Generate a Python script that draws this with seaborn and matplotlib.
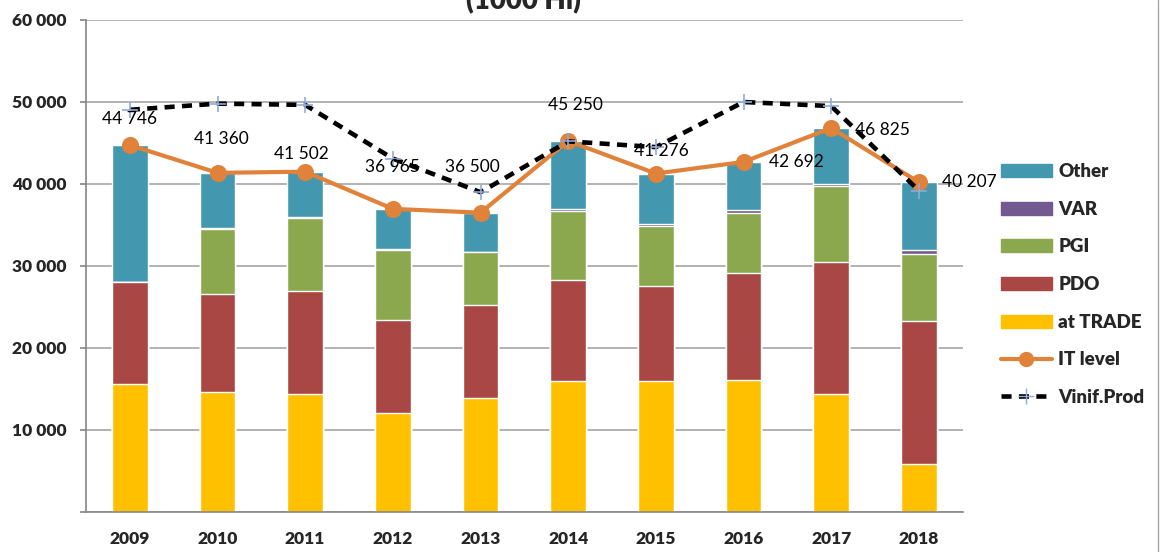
import matplotlib
matplotlib.use("Agg")
import matplotlib.pyplot as plt
from matplotlib.patches import Patch
from matplotlib.lines import Line2D
from matplotlib.ticker import FuncFormatter, FixedLocator
import numpy as np
import pandas as pd
import seaborn as sns

# data (1000 hl)
years = ["2009", "2010", "2011", "2012", "2013", "2014", "2015", "2016", "2017", "2018"]
at_trade = [15600, 14600, 14400, 12100, 13900, 16000, 16000, 16100, 14350, 5800]
pdo = [12400, 12000, 12600, 11350, 11400, 12300, 11600, 13100, 16150, 17500]
pgi = [0, 7950, 8900, 8500, 6360, 8370, 7300, 7300, 9200, 8200]
var = [0, 100, 50, 150, 100, 250, 200, 300, 350, 450]
it_level = [44746, 41360, 41502, 36965, 36500, 45250, 41276, 42692, 46825, 40207]
vinif_prod = [49050, 49800, 49650, 43100, 39000, 45200, 44500, 50000, 49500, 39200]

# "Other" fills each bar up to the IT level total
other = [t - a - b - c - d for t, a, b, c, d in zip(it_level, at_trade, pdo, pgi, var)]

series = ["at TRADE", "PDO", "PGI", "VAR", "Other"]
colors = {"at TRADE": "#FFC000", "PDO": "#A94745", "PGI": "#8BA84E",
          "VAR": "#72598F", "Other": "#4398B0"}
it_color = "#E0823A"
grid_grey = "#A6A6A6"
heavy = "heavy"

df = pd.DataFrame({"year": years, "at TRADE": at_trade, "PDO": pdo, "PGI": pgi,
                   "VAR": var, "Other": other})
cum = df[series].cumsum(axis=1)

sns.set_style("white")
plt.rcParams["font.family"] = ["Lato", "DejaVu Sans"]

fig = plt.figure(figsize=(11.6, 5.52), dpi=100)
ax = fig.add_axes([86 / 1160, 1 - 512 / 552, (962.7 - 86) / 1160, (512 - 20) / 552])

# stacked bars: draw the cumulative totals from the top segment down
for s in reversed(series):
    sns.barplot(x=df["year"], y=cum[s], color=colors[s], width=0.41,
                saturation=1, ax=ax, zorder=2)

sns.pointplot(x=years, y=it_level, color=it_color, marker="o", linestyle="-",
              markersize=10, linewidth=3, ax=ax, zorder=4, errorbar=None)
sns.pointplot(x=years, y=vinif_prod, color="black", marker="+", linestyle=(0, (2.2, 1.6)),
              markersize=11, markeredgecolor="#8FAADC", markeredgewidth=1.2,
              linewidth=3.3, ax=ax, zorder=5, errorbar=None)

# value labels for IT level (offsets in pixels)
lab_off = [(0, 26), (4, 34), (-4, 18), (0, 42), (-8, 46), (7, 36), (6, 23),
           (53, 0), (51, -2), (51, 0)]
for i, v in enumerate(it_level):
    dx, dy = lab_off[i]
    ax.annotate(f"{v:,}".replace(",", " "), (i, v), xytext=(dx * 0.72, dy * 0.72),
                textcoords="offset points", ha="center", va="center",
                fontsize=12.5, color="black", zorder=6)

ax.set_ylim(0, 60000)
ax.set_xlim(-0.5, 9.5)
ax.set_yticks(range(0, 60001, 10000))
ax.yaxis.set_major_formatter(FuncFormatter(lambda v, p: "" if v == 0 else f"{v:,.0f}".replace(",", " ")))
ax.yaxis.grid(True, color=grid_grey, linewidth=1.2)
ax.set_axisbelow(True)
ax.set_xlabel("")
ax.set_ylabel("")

for side in ["top", "right"]:
    ax.spines[side].set_visible(False)
for side in ["left", "bottom"]:
    ax.spines[side].set_color("#868686")
    ax.spines[side].set_linewidth(1.2)

ax.xaxis.set_minor_locator(FixedLocator(np.arange(-0.5, 10, 1)))
ax.tick_params(axis="x", which="major", direction="in", length=3, color="#868686",
               pad=13.5, labelsize=12.5)
ax.tick_params(axis="x", which="minor", direction="out", length=4, color="#868686", width=1.2)
ax.tick_params(axis="y", which="major", direction="out", length=4.3, color="#868686",
               width=1.2, pad=10, labelsize=12.5, left=True)
for t in ax.get_xticklabels() + ax.get_yticklabels():
    t.set_fontweight(heavy)

fig.text(523 / 1160, 1 - 14 / 552, "(1000 Hl)", ha="center", va="bottom",
         fontsize=20, fontweight=heavy)

handles = [Patch(color=colors[s]) for s in reversed(series)]
handles.append(Line2D([], [], color=it_color, linewidth=3, marker="o", markersize=10))
handles.append(Line2D([], [], color="black", linewidth=3.3, linestyle=(0, (2.2, 1.6)),
                      marker="+", markersize=11, markeredgecolor="#8FAADC"))
labels = list(reversed(series)) + ["IT level", "Vinif.Prod"]
fig.legend(handles, labels, loc="center left", bbox_to_anchor=(1001 / 1160, 1 - 284.5 / 552),
           frameon=False, borderpad=0, borderaxespad=0, handlelength=2.7,
           handleheight=0.7, handletextpad=0.35, labelspacing=1.1,
           prop={"weight": heavy, "size": 13.5})

fig.add_artist(Line2D([1157.5 / 1160] * 2, [0, 1], color="#A6A6A6", linewidth=1,
                      transform=fig.transFigure))

fig.savefig("out.png", dpi=100)
